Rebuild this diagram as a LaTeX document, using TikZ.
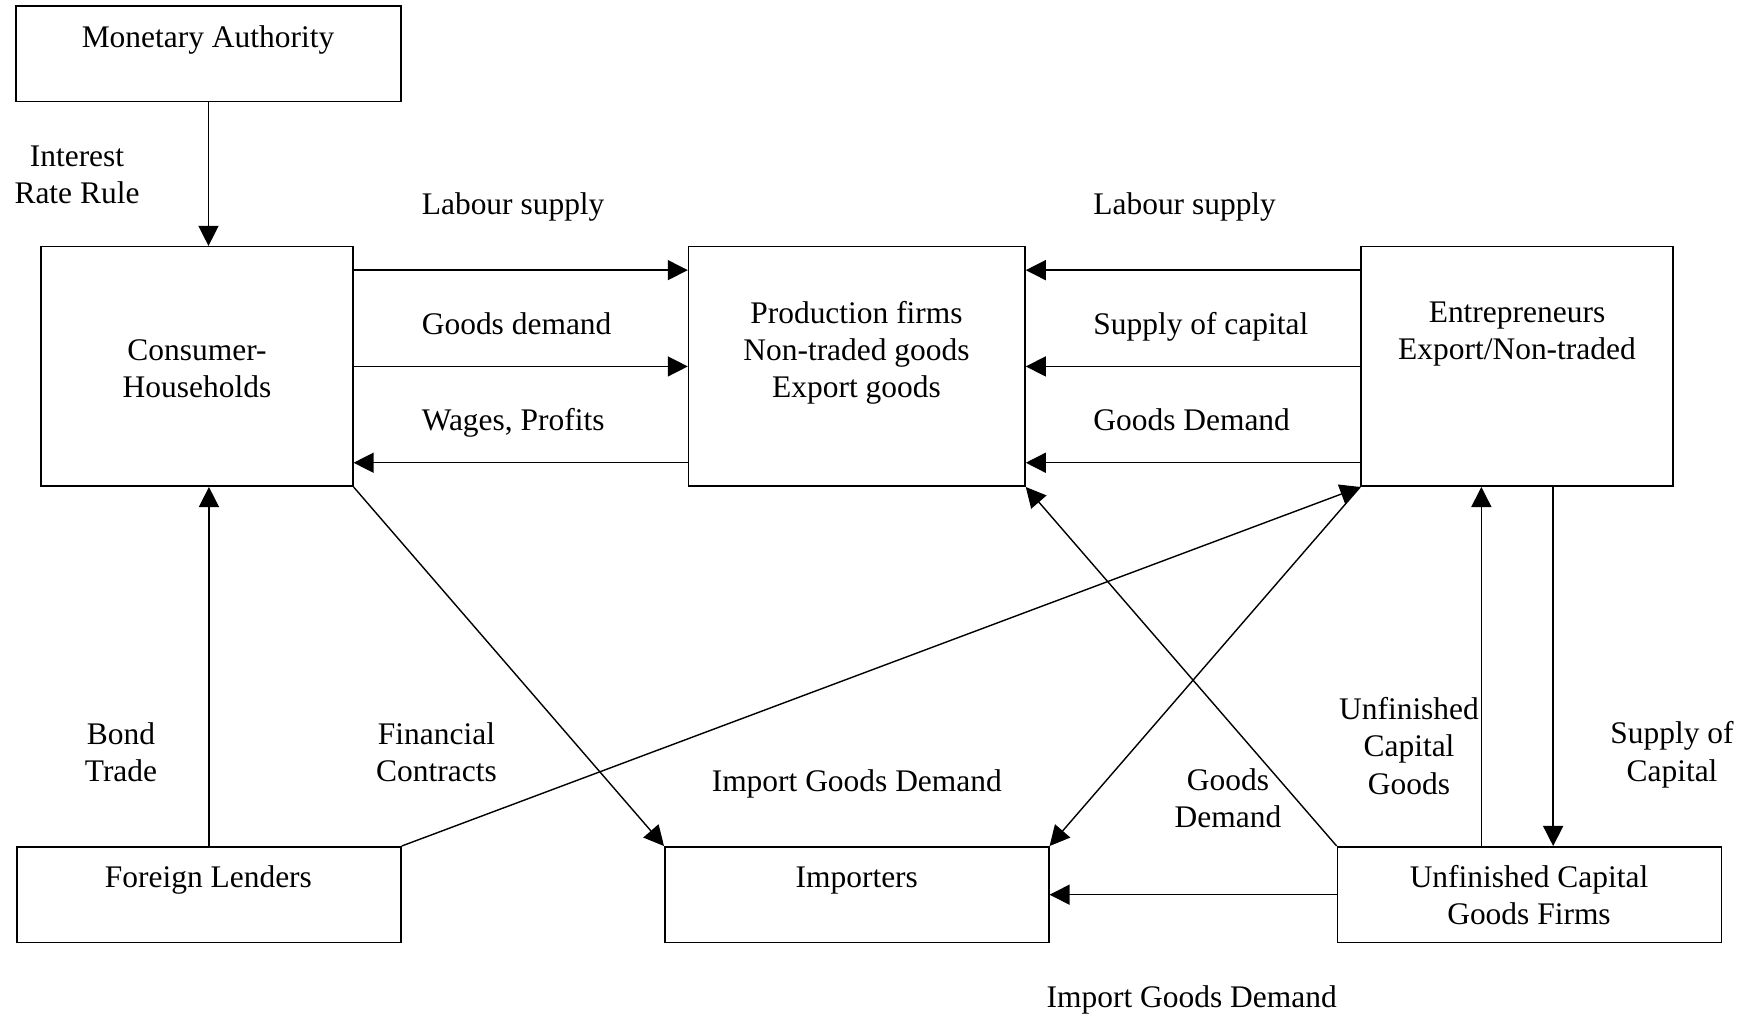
\documentclass[tikz,border=0pt]{standalone}
\usepackage{fontspec}
\setmainfont{Liberation Serif}
\usetikzlibrary{arrows.meta,calc}

\begin{document}
\begin{tikzpicture}[scale=0.2,
  box/.style={draw=black, line width=0.9pt, minimum width=7.68cm, minimum height=1.915cm},
  tallbox/.style={box, minimum height=4.79cm},
  arr/.style={line width=0.8pt, -{Triangle[length=11.4pt,width=11.4pt]}},
  lbl/.style={align=center}]
  \tikzstyle{every node}+=[inner sep=0pt, font=\fontsize{17.9}{21.2}\selectfont]
  \useasboundingbox (0,0) rectangle (175.5,-101.6);
  \node [box, minimum width=7.7cm, minimum height=1.914cm] (mon) at (20.85,-5.385) {};
  \node [tallbox, minimum width=6.236cm] (cons) at (19.69,-36.645) {};
  \node [tallbox, minimum width=6.728cm] (prod) at (85.68,-36.645) {};
  \node [tallbox, minimum width=6.244cm] (ent) at (151.71,-36.645) {};
  \node [box] (forl) at (20.895,-89.47) {};
  \node [box] (imp) at (85.68,-89.47) {};
  \node [box] (ucg) at (152.95,-89.47) {};
  \node [anchor=base] (montext) at (20.8,-4.77) {Monetary Authority};
  \node [lbl] (rule) at (7.7,-17.5) {Interest\\Rate Rule};
  \node [anchor=base west] (labl) at (42.15,-21.5) {Labour supply};
  \node [anchor=base west] (gdl) at (42.15,-33.4) {Goods demand};
  \node [anchor=base west] (wage) at (42.15,-43.0) {Wages, Profits};
  \node [anchor=base west] (labr) at (109.3,-21.5) {Labour supply};
  \node [anchor=base west] (supcap) at (109.3,-33.4) {Supply of capital};
  \node [anchor=base west] (gdr) at (109.3,-43.0) {Goods Demand};
  \node [lbl] (constext) at (19.7,-36.9) {Consumer-\\Households};
  \node [lbl] (prodtext) at (85.65,-35.3) {Production firms\\Non-traded goods\\Export goods};
  \node [lbl] (enttext) at (151.7,-33.4) {Entrepreneurs\\Export/Non-traded};
  \node [lbl] (bond) at (12.1,-75.2) {Bond\\Trade};
  \node [lbl] (fin) at (43.65,-75.2) {Financial\\Contracts};
  \node [anchor=base] (igd) at (85.68,-79.1) {Import Goods Demand};
  \node [lbl] (gdd) at (122.8,-79.85) {Goods\\Demand};
  \node [lbl] (ucgood) at (140.9,-74.6) {Unfinished\\Capital\\Goods};
  \node [lbl] (supcap2) at (167.2,-75.48) {Supply of\\Capital};
  \node [anchor=base] (forltext) at (20.84,-88.7) {Foreign Lenders};
  \node [anchor=base] (imptext) at (85.68,-88.7) {Importers};
  \node [lbl] (ucgtext) at (152.9,-89.5) {Unfinished Capital\\Goods Firms};
  \node [anchor=base] (igd2) at (119.17,-100.7) {Import Goods Demand};
  \draw [arr] (mon.south) -- (mon.south |- cons.north);
  \draw [arr] (forl.north) -- (forl.north |- cons.south);
  \draw [arr] ($(cons.east)+(0,9.63)$) -- ($(prod.west)+(0,9.63)$);
  \draw [arr] (cons.east) -- (prod.west);
  \draw [arr] ($(prod.west)+(0,-9.63)$) -- ($(cons.east)+(0,-9.63)$);
  \foreach \dy in {9.63,0,-9.63}
    \draw [arr] ($(ent.west)+(0,\dy)$) -- ($(prod.east)+(0,\dy)$);
  \draw [arr] (forl.north east) -- (ent.south west);
  \draw [arr] (cons.south east) -- (imp.north west);
  \draw [arr] (ent.south west) -- (imp.north east);
  \draw [arr] (ucg.north west) -- (prod.south east);
  \coordinate (ucgup) at ($(ent.south)+(-3.57,0)$);
  \coordinate (ucgdown) at ($(ent.south)+(3.61,0)$);
  \draw [arr] (ucgup |- ucg.north) -- (ucgup);
  \draw [arr] (ucgdown) -- (ucgdown |- ucg.north);
  \draw [arr] (ucg.west) -- (imp.east);
\end{tikzpicture}
\end{document}
